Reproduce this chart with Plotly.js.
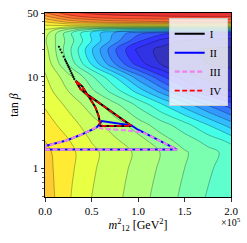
<!DOCTYPE html>
<html>
<head>
<meta charset="utf-8">
<script src="https://cdn.plot.ly/plotly-3.0.1.min.js"></script>
<style>html,body{margin:0;padding:0;background:#fff;}#chart{width:247px;height:243px;}</style>
</head>
<body>
<div id="chart"></div>
<script>
// grid of m12^2 values (GeV^2)
const m12 = [0, 25000, 50000, 75000, 100000, 125000, 150000, 175000, 200000];
// grid of tan beta values
const tanb = [0.48, 0.7, 1, 1.5, 2, 3, 5, 7, 10, 14, 20, 25, 30, 33, 36, 40, 45, 50.5];
// estimated field values (rows follow tanb, columns follow m12)
const zRows = [
  [0.705, 0.645, 0.600, 0.572, 0.537, 0.504, 0.470, 0.436, 0.400],
  [0.700, 0.648, 0.603, 0.575, 0.542, 0.508, 0.475, 0.442, 0.407],
  [0.695, 0.652, 0.606, 0.578, 0.547, 0.513, 0.480, 0.448, 0.415],
  [0.690, 0.655, 0.609, 0.582, 0.552, 0.518, 0.485, 0.454, 0.425],
  [0.680, 0.643, 0.598, 0.567, 0.535, 0.499, 0.462, 0.426, 0.390],
  [0.660, 0.620, 0.578, 0.540, 0.500, 0.458, 0.415, 0.360, 0.300],
  [0.635, 0.590, 0.540, 0.490, 0.430, 0.365, 0.300, 0.235, 0.175],
  [0.620, 0.560, 0.490, 0.420, 0.345, 0.265, 0.185, 0.120, 0.080],
  [0.605, 0.535, 0.450, 0.360, 0.260, 0.170, 0.100, 0.065, 0.050],
  [0.590, 0.475, 0.355, 0.240, 0.140, 0.075, 0.050, 0.040, 0.035],
  [0.575, 0.455, 0.325, 0.205, 0.110, 0.065, 0.045, 0.037, 0.033],
  [0.565, 0.465, 0.360, 0.260, 0.170, 0.110, 0.080, 0.065, 0.060],
  [0.580, 0.455, 0.350, 0.270, 0.210, 0.170, 0.150, 0.140, 0.135],
  [0.600, 0.510, 0.430, 0.380, 0.360, 0.350, 0.345, 0.345, 0.345],
  [0.630, 0.630, 0.625, 0.620, 0.620, 0.620, 0.620, 0.620, 0.620],
  [0.680, 0.730, 0.760, 0.780, 0.790, 0.795, 0.800, 0.800, 0.800],
  [0.740, 0.810, 0.845, 0.860, 0.865, 0.870, 0.872, 0.875, 0.875],
  [0.800, 0.870, 0.895, 0.905, 0.910, 0.915, 0.918, 0.920, 0.920]
];

// black dotted trail
const dotsX = [15000, 16500, 18000, 20000, 21500, 22500, 23500, 24500, 25500, 26500, 27500, 28500, 29500, 30500, 31500];
const dotsY = [21.4, 19.9, 18.5, 16.7, 15.5, 14.8, 14.1, 13.4, 12.8, 12.2, 11.6, 11.0, 10.5, 10.0, 9.5];

// curve I (wedge)
const curveIX = [33000, 38000, 45000, 55000, 65000, 75000, 85000, 93000, 75000, 59000, 59000, 57500, 54000, 50000, 45000, 40000, 33000];
const curveIY = [9.1, 7.4, 6.5, 5.5, 4.64, 3.91, 3.31, 2.92, 2.92, 2.92, 3.2, 3.8, 4.7, 5.5, 6.5, 7.9, 9.1];
// curve II
const curveIIX = [0, 70000, 142000, 120000, 100000, 93000, 80000, 61000, 58500, 56000, 52000, 45000, 38000, 23000, 10000, 0, 0];
const curveIIY = [1.61, 1.61, 1.61, 2.09, 2.65, 2.95, 3.1, 3.3, 3.05, 2.85, 2.7, 2.5, 2.32, 2.02, 1.86, 1.76, 1.61];
// curve III
const curveIIIX = [0, 70000, 142000, 120000, 105000, 85000, 62000, 56000, 52000, 45000, 38000, 23000, 10000, 0, 0];
const curveIIIY = [1.61, 1.61, 1.61, 2.09, 2.48, 2.62, 2.72, 2.85, 2.7, 2.5, 2.32, 2.02, 1.86, 1.76, 1.61];
// curve IV
const curveIVX = [33000, 38000, 45000, 55000, 65000, 75000, 85000, 93000, 75000, 59000, 59000, 57500, 54000, 50000, 45000, 40000, 33000];
const curveIVY = [9.1, 7.4, 6.5, 5.5, 4.64, 3.91, 3.31, 2.92, 2.92, 2.92, 3.2, 3.8, 4.7, 5.5, 6.5, 7.9, 9.1];

const xTicks = [0, 50000, 100000, 150000, 200000];
const xTickText = ['0.0', '0.5', '1.0', '1.5', '2.0'];
const yTicks = [1, 10, 50];
const yTickText = ['1', '10', '50'];
const yMinor = [0.5, 0.6, 0.7, 0.8, 0.9, 2, 3, 4, 5, 6, 7, 8, 9, 20, 30, 40];

const paleJet = [
  [0.00, 'rgb(51,51,153)'],
  [0.11, 'rgb(51,51,255)'],
  [0.125, 'rgb(51,51,255)'],
  [0.34, 'rgb(51,226,255)'],
  [0.35, 'rgb(51,235,248)'],
  [0.375, 'rgb(67,255,232)'],
  [0.64, 'rgb(242,255,58)'],
  [0.65, 'rgb(248,247,51)'],
  [0.66, 'rgb(255,240,51)'],
  [0.89, 'rgb(255,66,51)'],
  [0.91, 'rgb(236,51,51)'],
  [1.00, 'rgb(153,51,51)']
];

const serif = 'Liberation Serif, DejaVu Serif, serif';

const traces = [
  {
    type: 'contour', x: m12, y: tanb, z: zRows,
    colorscale: paleJet, showscale: false, autocontour: false,
    contours: {start: 0.04, end: 0.96, size: 0.04, coloring: 'fill'},
    line: {color: 'rgba(0,0,0,0.32)', width: 0.9, smoothing: 1.0},
    showlegend: false, hoverinfo: 'skip'
  },
  {type: 'scatter', mode: 'markers', x: dotsX, y: dotsY, marker: {color: 'black', size: 2.2}, showlegend: false, hoverinfo: 'skip'},
  {type: 'scatter', mode: 'lines', name: 'I', x: curveIX, y: curveIY, line: {color: 'black', width: 2}},
  {type: 'scatter', mode: 'lines', name: 'II', x: curveIIX, y: curveIIY, line: {color: 'blue', width: 2}},
  {type: 'scatter', mode: 'lines', name: 'III', x: curveIIIX, y: curveIIIY, line: {color: 'violet', width: 2.2, dash: '5px,2.5px'}},
  {type: 'scatter', mode: 'lines', name: 'IV', x: curveIVX, y: curveIVY, line: {color: 'red', width: 1.6, dash: '5px,2.5px'}}
];

const layout = {
  width: 247, height: 243,
  margin: {l: 45, r: 16, t: 13, b: 46},
  paper_bgcolor: 'white', plot_bgcolor: 'white',
  font: {family: serif, size: 11, color: 'black'},
  xaxis: {
    range: [0, 200000], tickvals: xTicks, ticktext: xTickText,
    ticks: 'outside', ticklen: 3.5, tickwidth: 0.8, tickcolor: 'black',
    showline: true, mirror: true, linecolor: 'black', linewidth: 1,
    showgrid: false, zeroline: false,
    tickfont: {family: serif, size: 11},
    title: {text: '<i>m</i><sup>2</sup><sub>12</sub> [GeV<sup>2</sup>]', font: {family: serif, size: 12}, standoff: 0}
  },
  yaxis: {
    type: 'log', range: [Math.log10(0.488), Math.log10(50)],
    tickvals: yTicks, ticktext: yTickText,
    ticks: 'outside', ticklen: 3.5, tickwidth: 0.8, tickcolor: 'black',
    minor: {tickvals: yMinor, ticks: 'outside', ticklen: 2, tickwidth: 0.6, tickcolor: 'black', showgrid: false},
    showline: true, mirror: true, linecolor: 'black', linewidth: 1,
    showgrid: false, zeroline: false,
    tickfont: {family: serif, size: 11},
    title: {text: 'tan <i>β</i>', font: {family: serif, size: 12}, standoff: 6}
  },
  legend: {
    x: 0.665, y: 0.972, xanchor: 'left', yanchor: 'top',
    bgcolor: 'rgba(255,255,255,0.8)', bordercolor: 'rgb(204,204,204)', borderwidth: 1,
    font: {family: serif, size: 11}, itemwidth: 30, tracegroupgap: 0
  },
  annotations: [
    {xref: 'paper', yref: 'paper', x: 1.0, y: -0.135, xanchor: 'center', yanchor: 'middle',
     text: '×10<sup>5</sup>', showarrow: false, font: {family: serif, size: 10}}
  ]
};

Plotly.newPlot('chart', traces, layout, {displayModeBar: false, staticPlot: true});
</script>
</body>
</html>
